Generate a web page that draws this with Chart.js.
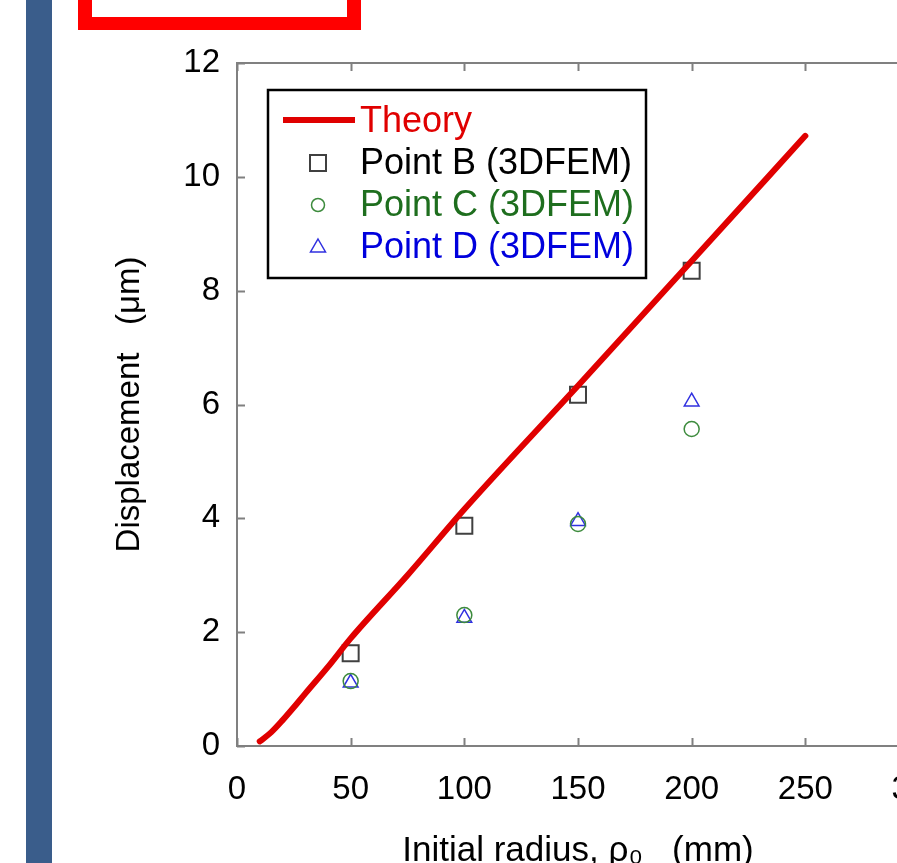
<!DOCTYPE html>
<html lang="en">
<head>
  <meta charset="UTF-8">
  <title>Displacement vs initial radius</title>
  <script src="https://cdn.jsdelivr.net/npm/chart.js"></script>
  <style>
    html, body { margin: 0; padding: 0; background: #fff; overflow: hidden; width: 897px; height: 863px; }
    .side-bar { position: absolute; left: 26px; top: 0; width: 26px; height: 863px; background: #3a5d8b; }
    .red-box { position: absolute; left: 78px; top: -20px; width: 283px; height: 50px; border: 14px solid #ff0000; border-bottom-width: 13px; box-sizing: border-box; }
    .chart-box { position: absolute; left: 0; top: 0; width: 1000px; height: 900px; }
  </style>
</head>
<body>
<div class="side-bar"></div>
<div class="red-box"></div>
<div class="chart-box">
  <canvas id="dispChart" width="1000" height="900"></canvas>
</div>

<script>
// values
const radius = [50, 100, 150, 200];
const pointB = [1.63, 3.87, 6.17, 8.35];
const pointC = [1.14, 2.30, 3.90, 5.57];
const pointD = [1.11, 2.25, 3.95, 6.05];
const theoryX = [10, 15, 20, 25, 30, 40, 50, 75, 100, 150, 200, 250];
const theoryY = [0.08, 0.24, 0.45, 0.68, 0.92, 1.39, 1.89, 3.0, 4.16, 6.33, 8.52, 10.72];
const xTicks = [0, 50, 100, 150, 200, 250, 300];
const yTicks = [0, 2, 4, 6, 8, 10, 12];

const FONT = "'Liberation Sans', Arial, sans-serif";

const toPoints = (xs, ys) => xs.map((x, i) => ({ x: x, y: ys[i] }));

// axis frame with inward ticks, like the original plot
const framePlugin = {
  id: 'frame',
  afterDraw(chart) {
    const { ctx, chartArea: a, scales } = chart;
    ctx.save();
    ctx.strokeStyle = '#808080';
    ctx.lineWidth = 2;
    ctx.strokeRect(a.left, a.top, a.right - a.left, a.bottom - a.top);
    ctx.beginPath();
    xTicks.forEach(v => {
      const px = Math.round(scales.x.getPixelForValue(v)) + 0.5;
      ctx.moveTo(px, a.bottom); ctx.lineTo(px, a.bottom - 8);
      ctx.moveTo(px, a.top); ctx.lineTo(px, a.top + 8);
    });
    yTicks.forEach(v => {
      const py = Math.round(scales.y.getPixelForValue(v)) + 0.5;
      ctx.moveTo(a.left, py); ctx.lineTo(a.left + 8, py);
      ctx.moveTo(a.right, py); ctx.lineTo(a.right - 8, py);
    });
    ctx.stroke();
    ctx.restore();
  }
};

// boxed legend inside the plot, text coloured like each series
const legendPlugin = {
  id: 'boxLegend',
  afterDraw(chart) {
    const { ctx, chartArea: a } = chart;
    const x0 = a.left + 31, y0 = a.top + 27;
    const w = 378, h = 188;
    ctx.save();
    ctx.fillStyle = '#fff';
    ctx.fillRect(x0, y0, w, h);
    ctx.strokeStyle = '#000';
    ctx.lineWidth = 2.5;
    ctx.strokeRect(x0, y0, w, h);

    const mx = x0 + 50, tx = x0 + 92;
    ctx.font = '36px ' + FONT;
    ctx.textBaseline = 'middle';
    chart.data.datasets.forEach((ds, i) => {
      const cy = y0 + 31 + i * 42;
      ctx.strokeStyle = ds.borderColor;
      ctx.lineWidth = ds.borderWidth;
      ctx.beginPath();
      if (ds.showLine) {
        ctx.moveTo(x0 + 15, cy - 1); ctx.lineTo(x0 + 87, cy - 1);
      } else if (ds.pointStyle === 'rect') {
        ctx.rect(mx - 8, cy - 8, 16, 16);
      } else if (ds.pointStyle === 'circle') {
        ctx.arc(mx, cy, 6.5, 0, Math.PI * 2);
      } else {
        ctx.moveTo(mx, cy - 8);
        ctx.lineTo(mx + 7.5, cy + 5);
        ctx.lineTo(mx - 7.5, cy + 5);
        ctx.closePath();
      }
      ctx.stroke();
      ctx.fillStyle = ds.legendColor;
      ctx.fillText(ds.label, tx, cy + 1);
    });
    ctx.restore();
  }
};

new Chart(document.getElementById('dispChart'), {
  type: 'scatter',
  data: {
    datasets: [
      {
        label: 'Theory',
        data: toPoints(theoryX, theoryY),
        showLine: true,
        borderColor: '#e00000',
        legendColor: '#e00000',
        borderWidth: 6,
        pointRadius: 0,
        cubicInterpolationMode: 'monotone',
        borderCapStyle: 'round'
      },
      {
        label: 'Point B (3DFEM)',
        data: toPoints(radius, pointB),
        showLine: false,
        pointStyle: 'rect',
        pointRadius: 11.3,
        borderColor: '#404040',
        legendColor: '#000000',
        backgroundColor: 'rgba(0,0,0,0)',
        borderWidth: 2
      },
      {
        label: 'Point C (3DFEM)',
        data: toPoints(radius, pointC),
        showLine: false,
        pointStyle: 'circle',
        pointRadius: 7.5,
        borderColor: '#3d8b3d',
        legendColor: '#1e6e1e',
        backgroundColor: 'rgba(0,0,0,0)',
        borderWidth: 1.5
      },
      {
        label: 'Point D (3DFEM)',
        data: toPoints(radius, pointD),
        showLine: false,
        pointStyle: 'triangle',
        pointRadius: 8.5,
        borderColor: '#3030e0',
        legendColor: '#0000dd',
        backgroundColor: 'rgba(0,0,0,0)',
        borderWidth: 1.5
      }
    ]
  },
  options: {
    responsive: false,
    animation: false,
    devicePixelRatio: 1,
    layout: { padding: { left: 0, top: 63, right: 81, bottom: 0 } },
    plugins: {
      legend: { display: false },
      tooltip: { enabled: false }
    },
    scales: {
      x: {
        type: 'linear',
        min: 0, max: 300,
        afterBuildTicks: s => { s.ticks = xTicks.map(v => ({ value: v })); },
        afterFit: s => { s.height = 154; },
        grid: { display: false, drawTicks: false },
        border: { display: false },
        ticks: { color: '#000', padding: 24, font: { family: FONT, size: 33 } },
        title: {
          display: true,
          text: 'Initial radius, ρ₀   (mm)',
          color: '#000',
          font: { family: FONT, size: 35 },
          padding: { top: 0, bottom: 28 }
        }
      },
      y: {
        type: 'linear',
        min: 0, max: 12,
        afterBuildTicks: s => { s.ticks = yTicks.map(v => ({ value: v })); },
        afterFit: s => { s.width = 237; },
        grid: { display: false, drawTicks: false },
        border: { display: false },
        ticks: { color: '#000', padding: 17, font: { family: FONT, size: 33 } },
        title: {
          display: true,
          text: 'Displacement   (μm)',
          color: '#000',
          font: { family: FONT, size: 33 },
          padding: { top: 110, bottom: 0 }
        }
      }
    }
  },
  plugins: [framePlugin, legendPlugin]
});
</script>
</body>
</html>
